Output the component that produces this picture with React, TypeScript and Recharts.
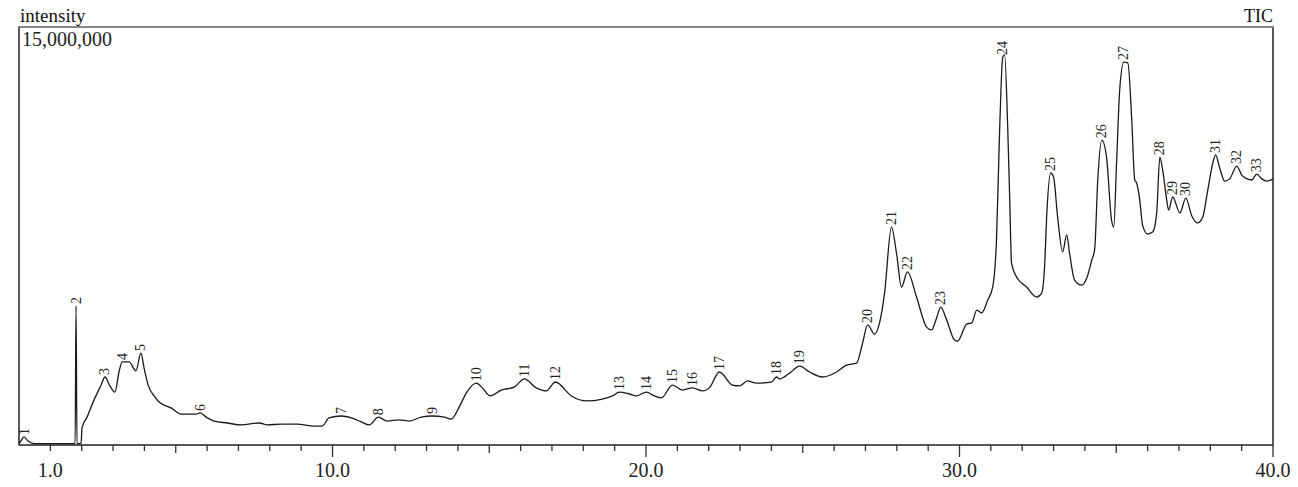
import React from 'react';
import { LineChart, Line, XAxis, YAxis, ReferenceArea, ReferenceLine, LabelList } from 'recharts';

const FONT = '"Liberation Serif", "Times New Roman", serif';

// retention time (min)
const retentionTimes = [
  0.0, 0.06, 0.16, 0.29, 0.48, 1.79, 1.82, 1.85, 1.98, 2.01,
  2.17, 2.39, 2.62, 2.74, 2.9, 3.06, 3.19, 3.29, 3.51, 3.73,
  3.89, 3.99, 4.12, 4.31, 4.47, 4.85, 5.17, 5.65, 5.78, 5.97,
  6.22, 6.64, 7.09, 7.66, 7.92, 8.36, 8.87, 9.42, 9.67, 9.89,
  10.28, 10.6, 10.92, 11.17, 11.46, 11.75, 12.13, 12.45, 12.83, 13.18,
  13.57, 13.79, 14.04, 14.27, 14.59, 14.78, 15.03, 15.38, 15.8, 16.12,
  16.5, 16.82, 17.11, 17.62, 18.1, 18.61, 18.93, 19.15, 19.47, 19.69,
  20.01, 20.27, 20.49, 20.84, 21.16, 21.48, 21.8, 22.02, 22.34, 22.76,
  22.98, 23.24, 23.52, 24.0, 24.16, 24.26, 24.58, 24.9, 25.22, 25.63,
  26.08, 26.4, 26.72, 26.91, 27.07, 27.29, 27.45, 27.61, 27.83, 27.99,
  28.15, 28.34, 28.63, 28.95, 29.11, 29.27, 29.4, 29.59, 29.84, 29.94,
  30.23, 30.39, 30.55, 30.71, 30.9, 31.06, 31.18, 31.28, 31.38, 31.44,
  31.54, 31.6, 31.66, 31.82, 32.14, 32.46, 32.62, 32.72, 32.78, 32.91,
  33.0, 33.13, 33.29, 33.42, 33.51, 33.67, 33.9, 34.06, 34.22, 34.31,
  34.41, 34.54, 34.69, 34.85, 34.92, 35.01, 35.11, 35.24, 35.37, 35.49,
  35.59, 35.65, 35.75, 35.84, 36.0, 36.16, 36.29, 36.39, 36.48, 36.61,
  36.67, 36.8, 37.03, 37.22, 37.41, 37.6, 37.76, 37.92, 38.08, 38.17,
  38.3, 38.46, 38.62, 38.84, 39.03, 39.32, 39.48, 39.64, 39.8, 40.0,
];

// TIC intensity
const intensities = [
  50000, 140000, 290000, 140000, 50000, 50000, 4990000, 50000, 50000, 610000,
  1000000, 1610000, 2150000, 2440000, 2120000, 1900000, 2620000, 2980000, 2980000, 2660000,
  3300000, 2760000, 2150000, 1760000, 1540000, 1330000, 1110000, 1110000, 1150000, 1000000,
  860000, 790000, 720000, 790000, 720000, 750000, 750000, 680000, 680000, 970000,
  1040000, 970000, 830000, 720000, 1000000, 860000, 900000, 860000, 1000000, 1040000,
  1000000, 930000, 1360000, 1870000, 2220000, 2050000, 1760000, 1970000, 2080000, 2370000,
  2050000, 1940000, 2260000, 1760000, 1580000, 1650000, 1760000, 1900000, 1830000, 1760000,
  1900000, 1760000, 1690000, 2150000, 1970000, 2050000, 1940000, 2050000, 2620000, 2150000,
  2120000, 2300000, 2220000, 2260000, 2440000, 2370000, 2580000, 2830000, 2620000, 2440000,
  2620000, 2870000, 2940000, 3660000, 4310000, 3980000, 4380000, 5450000, 7820000, 6890000,
  5670000, 6210000, 5310000, 4230000, 4130000, 4560000, 4950000, 4490000, 3770000, 3730000,
  4340000, 4380000, 4840000, 4740000, 5200000, 5670000, 7360000, 11300000, 13920000, 14000000,
  11300000, 8900000, 6530000, 6030000, 5670000, 5310000, 5450000, 6530000, 8180000, 9760000,
  9620000, 8180000, 6930000, 7540000, 6890000, 5920000, 5740000, 5990000, 6640000, 7000000,
  9510000, 10940000, 10330000, 8070000, 7820000, 10120000, 12740000, 13740000, 13710000, 11770000,
  9510000, 9400000, 8790000, 7890000, 7570000, 7640000, 8330000, 10330000, 9870000, 8790000,
  8430000, 8900000, 8330000, 8860000, 8220000, 7970000, 8180000, 9150000, 10120000, 10410000,
  9940000, 9470000, 9550000, 10010000, 9650000, 9510000, 9720000, 9550000, 9470000, 9550000,
];

const peakNumbers = [
  1, 2, 3, 4, 5, 6, 7, 8, 9, 10, 11, 12, 13, 14, 15, 16, 17,
  18, 19, 20, 21, 22, 23, 24, 25, 26, 27, 28, 29, 30, 31, 32, 33,
];
const peakTimes = [
  0.16, 1.82, 2.74, 3.29, 3.89, 5.78, 10.28, 11.46, 13.18, 14.59, 16.12, 17.11, 19.15, 20.01, 20.84, 21.48, 22.34,
  24.16, 24.9, 27.07, 27.83, 28.34, 29.4, 31.38, 32.91, 34.54, 35.24, 36.39, 36.8, 37.22, 38.17, 38.84, 39.48,
];

const xTicks = [
  1, 2, 3, 4, 5, 6, 7, 8, 9, 10, 11, 12, 13, 14, 15, 16, 17, 18, 19, 20,
  21, 22, 23, 24, 25, 26, 27, 28, 29, 30, 31, 32, 33, 34, 35, 36, 37, 38, 39, 40,
];
const xTickLabels: Record<number, string> = { 1: '1.0', 10: '10.0', 20: '20.0', 30: '30.0', 40: '40.0' };
const yMax = 15000000;
const yMaxLabel = '15,000,000';
const yAxisTitle = 'intensity';
const traceName = 'TIC';

const data = retentionTimes.map((t, i) => {
  const k = peakTimes.indexOf(t);
  return { t, v: intensities[i], peak: k >= 0 ? String(peakNumbers[k]) : undefined };
});

const XTick = (props: any) => {
  const { x, y, payload } = props;
  const val = payload.value as number;
  const len = val % 10 === 0 ? 12 : val % 5 === 0 ? 8 : 6;
  const label = xTickLabels[val];
  return (
    <g>
      <line x1={x} x2={x} y1={y} y2={y + len} stroke="#333" strokeWidth={1.3} />
      {label && (
        <text x={x} y={y + 32} textAnchor="middle" fontFamily={FONT} fontSize={20} fill="#222">
          {label}
        </text>
      )}
    </g>
  );
};

const PeakLabel = (props: any) => {
  const { value } = props;
  if (value == null || value === '') return null;
  const x = props.x ?? props.viewBox?.x;
  const y = (props.y ?? props.viewBox?.y) - 2;
  return (
    <text
      x={x}
      y={y}
      transform={`rotate(-90 ${x} ${y})`}
      textAnchor="start"
      dominantBaseline="central"
      fontFamily={FONT}
      fontSize={14}
      fill="#222"
    >
      {value}
    </text>
  );
};

export default function App() {
  return (
    <div style={{ position: 'relative', width: 1290, height: 479 }}>
      <LineChart width={1290} height={479} data={data} margin={{ top: 19, right: 25, left: 11, bottom: 2 }}>
        <XAxis
          dataKey="t"
          type="number"
          domain={[0, 40]}
          ticks={xTicks}
          interval={0}
          axisLine={false}
          tickLine={false}
          tickSize={0}
          tickMargin={0}
          height={40}
          tick={<XTick />}
        />
        <YAxis
          type="number"
          domain={[0, yMax]}
          width={0}
          axisLine={false}
          tickLine={false}
          tick={false}
          allowDataOverflow
        />
        <ReferenceArea x1={0} x2={40} y1={0} y2={yMax} fill="none" stroke="#222" strokeWidth={1.5} ifOverflow="visible" />
        <ReferenceLine y={yMax} stroke="#888" strokeWidth={2} ifOverflow="visible" />
        <Line
          type="monotone"
          dataKey="v"
          stroke="#1a1a1a"
          strokeWidth={1.3}
          dot={false}
          isAnimationActive={false}
        >
          <LabelList dataKey="peak" content={<PeakLabel />} />
        </Line>
      </LineChart>
      <svg
        width={1298}
        height={487}
        style={{ position: 'absolute', left: -8, top: -8, pointerEvents: 'none' }}
      >
        <text x={20} y={22} fontFamily={FONT} fontSize={19} fill="#111">{yAxisTitle}</text>
        <text x={1273} y={22} textAnchor="end" fontFamily={FONT} fontSize={18} fill="#111">{traceName}</text>
        <text x={22} y={46} fontFamily={FONT} fontSize={20} fill="#222">{yMaxLabel}</text>
      </svg>
    </div>
  );
}
